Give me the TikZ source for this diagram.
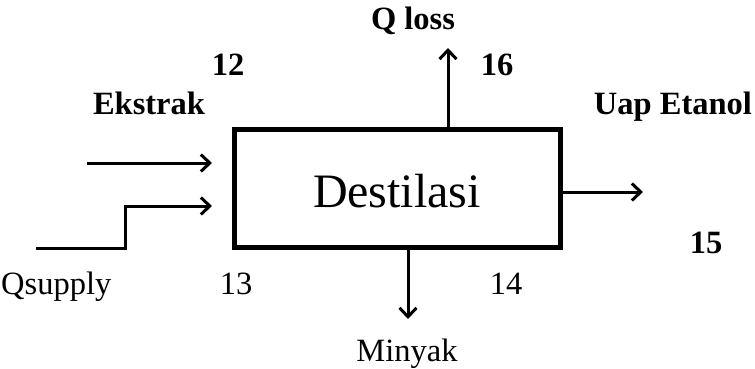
\documentclass[tikz,border=0pt]{standalone}
\usepackage{fontspec}
\setmainfont{Liberation Serif}
\usetikzlibrary{arrows.meta}
\begin{document}
\begin{tikzpicture}[x=1pt,y=-1pt,
  lbl/.style={inner sep=0pt,anchor=base,font=\fontsize{32.5}{32.5}\selectfont},
  blbl/.style={inner sep=0pt,anchor=base,font=\fontsize{32.5}{32.5}\selectfont\bfseries},
  flow/.style={line width=3pt,-{Straight Barb[length=9pt,width=17pt,line width=3pt]}},
  boxst/.style={draw,line width=5pt,inner sep=0pt,minimum width=326pt,minimum height=118pt}]
\useasboundingbox (0,0) rectangle (755,369);
\node[boxst] (box) at (397,188) {};
\node[inner sep=0pt,anchor=base,font=\fontsize{48}{48}\selectfont] (dest) at (397,207) {Destilasi};
% inputs
\coordinate (in1s) at (87,163);
\coordinate (in1e) at (212,163);
\coordinate (in2s) at (36,248);
\coordinate (in2k) at (125,248);
\coordinate (in2u) at (125,206);
\coordinate (in2e) at (212,206);
\draw[flow] (in1s) -- (in1e);
\draw[flow,line join=miter] (in2s) -- (in2k) -- (in2u) -- (in2e);
% outputs
\coordinate (qtop) at (448,48);
\coordinate (out) at (643,192);
\coordinate (mout) at (408,319);
\draw[flow] (box.north -| qtop) -- (qtop);
\draw[flow] (box.east |- out) -- (out);
\draw[flow] (box.south -| mout) -- (mout);
% labels
\node[blbl] (qloss) at (413,30) {Q loss};
\node[blbl] (n16) at (497,75) {16};
\node[blbl] (n12) at (228,75) {12};
\node[blbl] (ekstrak) at (149,114) {Ekstrak};
\node[blbl] (uap) at (673,114) {Uap Etanol};
\node[blbl] (n15) at (706,253) {15};
\node[lbl,anchor=base west] (qsup) at (1,294) {Qsupply};
\node[lbl] (n13) at (236,294) {13};
\node[lbl] (n14) at (506,294) {14};
\node[lbl] (minyak) at (407,361) {Minyak};
\end{tikzpicture}
\end{document}
